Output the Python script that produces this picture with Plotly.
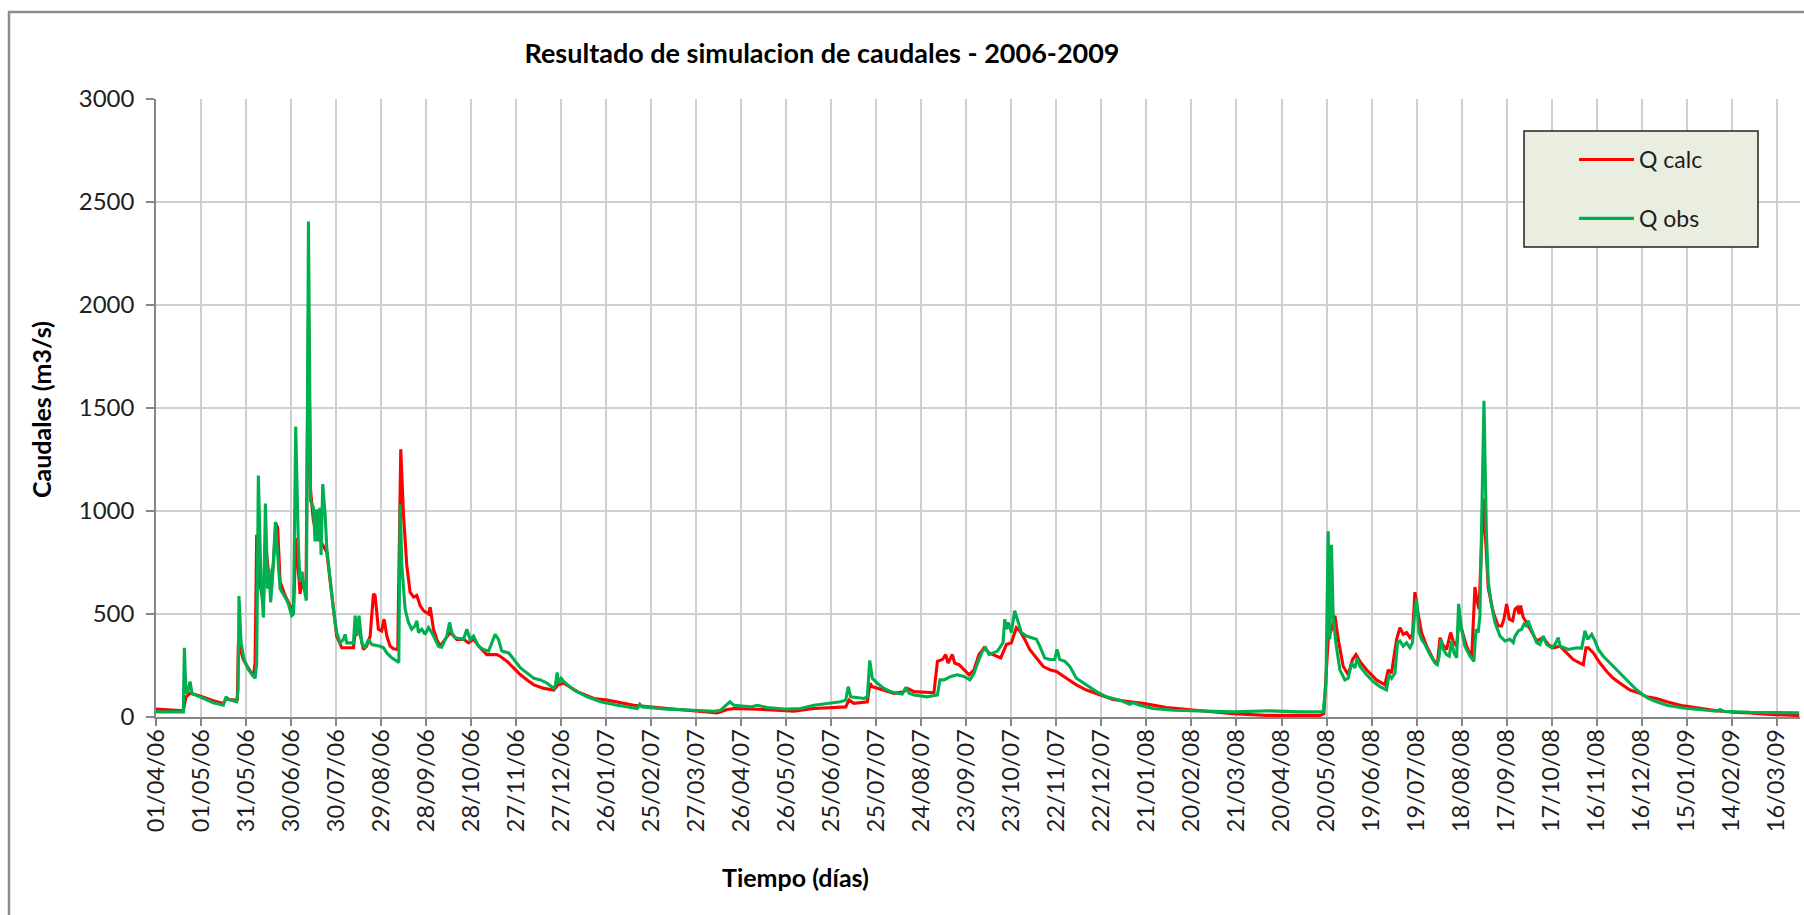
import pandas as pd
import plotly.graph_objects as go

# Serie diaria 01/04/2006 - 31/03/2009, expresada en días desde el inicio
inicio = pd.Timestamp("2006-04-01")

dias_obs = [
    0, 18.2, 18.9, 20, 21.1, 22.7, 24, 29.3, 38.2, 44.9, 46.7, 48.2, 51.6, 53.8, 54.7, 55.3,
    56.7, 58.7, 61.6, 64.9, 66, 67.1, 68.2, 70, 71.6, 72.9, 74.4, 75.3, 76.4, 77.6, 78.7,
    79.6, 81.1, 82.7, 86, 88.2, 90.4, 91.6, 93.1, 94.9, 96, 97.3, 98.7, 100.2, 101.6, 103,
    104.9, 106, 107.1, 108.2, 109.3, 110, 111.1, 112.7, 113.8, 116, 118.2, 120.4, 122.7,
    124.9, 126, 127.1, 131.6, 132.7, 133.8, 135.3, 137.1, 139.3, 141.6, 143.8, 149.3,
    151.6, 153.8, 157.1, 160.4, 161.8, 162.7, 163.8, 166, 168.2, 170.4, 172.7, 173.8,
    174.9, 177.1, 179.3, 181.6, 183.8, 186, 188.2, 190.4, 193.8, 195.6, 197.1, 199.3,
    204.9, 207.1, 209.3, 211.6, 214.9, 218.2, 221.6, 223.8, 226, 228.2, 230.4, 235.1,
    238.4, 242.9, 247.3, 251.8, 256.2, 260.7, 265.1, 266.2, 267.3, 268.4, 270, 271.8,
    278.4, 287.3, 296.2, 307.3, 320.7, 322.4, 324, 340.7, 358.4, 371.8, 376.2, 379.6,
    382.4, 385.1, 396.2, 400.7, 407.3, 420.7, 429.6, 438.4, 447.3, 456.2, 459.6, 461.3,
    462.9, 471.8, 474, 475.6, 477.3, 480.7, 485.1, 489.6, 494, 497.3, 499.6, 501.8, 505.1,
    514, 520.7, 522.4, 525.1, 529.6, 534, 538.4, 542.4, 545.1, 548.4, 550.7, 552.9, 555.1,
    560.7, 564.4, 565.6, 566.7, 567.8, 570, 572.2, 574.4, 576.7, 580, 583.3, 586.7, 588.9,
    592.2, 595.6, 598.9, 600.4, 602.2, 605.6, 608.9, 613.3, 620, 626.7, 633.3, 642.2,
    648.9, 651.1, 655.6, 664.4, 677.8, 695.6, 717.8, 742.2, 762.2, 777.8, 779.6, 781.1,
    782.2, 783.3, 784.4, 786.2, 788.9, 792.2, 794.4, 796.7, 798.9, 800.4, 802.2, 806.7,
    811.1, 815.6, 820, 821.6, 823.3, 825.6, 827.3, 828.9, 831.1, 833.3, 835.6, 837.3,
    838.9, 840, 841.6, 843.3, 845.6, 848.9, 852.2, 853.8, 855.1, 856.2, 857.8, 860, 861.8,
    863.3, 864.9, 866.7, 868, 870, 872.2, 875.6, 878.2, 879.6, 881.1, 882.2, 884.9, 886.5,
    887.8, 890, 892.2, 895.6, 898.9, 902.2, 904.4, 905.6, 907.8, 910, 911.6, 913.3, 914.4,
    916, 917.8, 920, 922.2, 924.4, 926.7, 930, 932.2, 934.4, 935.6, 937.8, 941.1, 946.7,
    950, 952.2, 954, 956.7, 958.9, 961.1, 964.4, 968.9, 973.3, 977.8, 982.2, 986.7, 991.1,
    994.4, 1000, 1006.7, 1017.8, 1028.9, 1040, 1042.2, 1044.4, 1062.2, 1080, 1095,
]
q_obs = [
    25, 25, 336, 115, 123, 172, 115, 98, 69, 57, 98, 85, 79, 74, 131, 587,
    360, 279, 229, 197, 188, 262, 1172, 656, 483, 1036, 623, 721, 557, 672, 820,
    947, 787, 623, 582, 549, 492, 500, 1410, 820, 656, 705, 623, 565, 2405, 1050,
    1016, 852, 1008, 852, 1016, 787, 1131, 983, 820, 656, 524, 410, 360,
    377, 401, 360, 360, 492, 393, 492, 360, 336, 377, 352, 344,
    336, 311, 287, 270, 265, 1033, 737, 524, 459, 426, 443, 467,
    410, 426, 401, 434, 410, 377, 344, 339, 393, 459, 410, 385,
    377, 426, 377, 393, 344, 328, 320, 360, 401, 377, 320, 311,
    279, 238, 213, 188, 180, 164, 139, 156, 216, 164, 188, 172,
    131, 98, 74, 57, 41, 62, 49, 38, 33, 28, 33, 57,
    74, 57, 49, 57, 46, 38, 41, 57, 66, 74, 82, 147,
    98, 90, 98, 275, 188, 164, 139, 123, 115, 111, 144, 115, 107,
    98, 107, 180, 180, 197, 205, 197, 180, 213, 279, 320, 336, 303,
    320, 360, 475, 426, 459, 410, 516, 459, 410, 393, 385, 377, 344,
    287, 279, 279, 328, 279, 270, 246, 188, 156, 123, 98, 82,
    62, 69, 57, 41, 33, 28, 25, 30, 25, 25, 164, 902,
    377, 836, 492, 360, 229, 180, 188, 262, 238, 287, 246, 205,
    172, 147, 131, 205, 188, 213, 360, 369, 344, 361, 336, 361,
    524, 574, 410, 377, 352, 303, 262, 254, 295, 377, 328, 303, 295,
    369, 311, 287, 549, 426, 344, 295, 270, 426, 410, 492, 1535, 900,
    656, 541, 459, 393, 369, 377, 361, 393, 418, 426, 451, 442, 467,
    434, 401, 361, 352, 393, 352, 336, 352, 385, 344, 336, 328, 336,
    333, 418, 377, 401, 369, 328, 295, 262, 229, 197, 164, 131, 107,
    90, 74, 57, 44, 36, 28, 36, 28, 23, 20, 20,
]

dias_calc = [
    0, 18.2, 20, 22.7, 29.3, 38.2, 44.9, 46.7, 49.3, 52.7, 54.2, 54.9, 58.2, 61.6, 64.9,
    66, 67.1, 68.9, 71.6, 72.9, 74.9, 76, 78.2, 79.8, 81.1, 82.7, 86, 90.4, 91.6, 93.3,
    95.1, 96, 97.1, 98.2, 100, 101.6, 103, 104.9, 107, 110, 113.8, 116, 118.2, 120.4,
    123.8, 131.6, 132.7, 134.9, 138.2, 140.4, 142.7, 144.9, 146, 148.2, 150.4, 152,
    153.8, 156, 158.2, 161.1, 163.1, 164.9, 167.1, 169.3, 171.6, 173.8, 176, 178.2,
    181.6, 182.7, 184.9, 187.1, 189.3, 192.7, 196, 200.4, 204.9, 208.2, 211.6, 216,
    220.4, 227.1, 229.3, 234, 238.4, 242.9, 247.3, 251.8, 258.4, 265.1, 267.8, 271.8,
    280.7, 291.8, 300.7, 318.4, 340.7, 362.9, 374, 380.7, 385.1, 407.3, 425.1, 438.4,
    459.6, 461.8, 465.1, 474, 475.8, 477.3, 485.1, 491.8, 498.4, 500.7, 505.1, 518.4,
    520.7, 524, 526.2, 527.8, 530.7, 532.2, 535.1, 538.4, 541.8, 545.1, 548.4, 551.8,
    555.1, 562.9, 564.4, 566.7, 570, 573.3, 575.6, 578.9, 582.2, 585.6, 591.1, 595.6,
    600, 606.7, 613.3, 620, 628.9, 637.8, 648.9, 657.8, 673.3, 695.6, 717.8, 740,
    775.6, 778.2, 780, 781.1, 783.3, 785.6, 787.8, 791.1, 794.4, 797.3, 799.6, 802.2,
    806.7, 813.3, 818.9, 821.1, 823.3, 826.7, 828.9, 831.1, 833.3, 835.6, 837.3, 838.9,
    841.1, 843.3, 846.7, 851.1, 853.8, 855.6, 857.3, 860, 862.7, 864.4, 866.7, 868.2,
    870, 873.3, 876.7, 878.9, 880, 881.6, 884.5, 887.8, 891.1, 894.4, 896.7, 898.2, 900,
    901.8, 904, 905.6, 907.1, 908.4, 909.3, 911.1, 913.3, 916.7, 920, 924.4, 927.8,
    931.1, 935.6, 940, 944.4, 948.9, 951.1, 952.9, 954.4, 957.8, 962.2, 966.7, 971.1,
    975.6, 982.2, 988.9, 993.3, 1000, 1006.7, 1017.8, 1028.9, 1040, 1051.1, 1062.2,
    1073.3, 1084.4, 1095,
]
q_calc = [
    38, 30, 98, 115, 102, 79, 66, 90, 85, 82, 85, 360, 279, 238, 197,
    262, 885, 656, 557, 852, 688, 623, 738, 942, 918, 656, 590, 524, 508, 869,
    656, 598, 656, 623, 656, 1960, 1100, 950, 900, 850, 800, 656, 508, 393,
    336, 336, 410, 443, 328, 344, 393, 598, 590, 426, 418, 475,
    393, 344, 331, 328, 1300, 983, 737, 606, 582, 590, 541, 516,
    500, 533, 426, 377, 344, 377, 410, 377, 377, 360, 377, 336,
    303, 303, 295, 270, 238, 205, 180, 156, 139, 131, 156, 164,
    123, 90, 82, 57, 41, 28, 20, 36, 41, 36, 28, 41,
    49, 82, 66, 74, 164, 147, 131, 115, 123, 139, 123, 118,
    270, 279, 303, 262, 303, 262, 254, 229, 205, 229, 303, 336,
    311, 287, 311, 352, 360, 434, 418, 377, 328, 295, 246, 229,
    221, 188, 156, 131, 107, 85, 74, 66, 46, 30, 16, 8,
    7, 16, 246, 377, 426, 492, 377, 246, 205, 279, 303, 270,
    229, 180, 156, 229, 213, 377, 434, 401, 410, 385, 401, 606,
    500, 410, 344, 279, 254, 385, 352, 328, 410, 369, 344, 467,
    426, 344, 287, 631, 574, 524, 1060, 623, 508, 442, 442, 475, 549,
    475, 467, 524, 533, 500, 541, 483, 459, 410, 369, 385, 352,
    336, 344, 311, 279, 262, 254, 336, 336, 311, 262, 221, 188,
    164, 131, 115, 98, 90, 74, 54, 41, 30, 23, 20,
    13, 8, 7,
]

fechas_obs = inicio + pd.to_timedelta(dias_obs, unit="D")
fechas_calc = inicio + pd.to_timedelta(dias_calc, unit="D")

FUENTE = "Lato"
GRIS_EJE = "#868686"
GRIS_REJILLA = "#D0D0D0"
TEXTO = "#1E1E1E"

fig = go.Figure()
fig.add_trace(go.Scatter(
    x=fechas_calc, y=q_calc, mode="lines", name="Q calc",
    legendgroup="calc", line=dict(color="#FF0000", width=3.1),
))
fig.add_trace(go.Scatter(
    x=fechas_obs, y=q_obs, mode="lines", name="Q obs",
    legendgroup="obs", line=dict(color="#00B050", width=3.1),
))

# Área del gráfico: plot de 156 a 1800 px en x y de 99 a 717 px en y
L, R, T, B = 156, 4, 99, 198
W, H = 1804, 915
pw, ph = W - L - R, H - T - B


def px_x(p):
    return (p - L) / pw


def px_y(p):
    return (H - B - p) / ph


fig.update_layout(
    width=W, height=H,
    margin=dict(l=L, r=R, t=T, b=B, pad=0),
    paper_bgcolor="white", plot_bgcolor="white",
    font=dict(family=FUENTE, size=23, color=TEXTO),
    showlegend=True,
    legend=dict(
        x=px_x(1574), y=px_y(138), xanchor="left", yanchor="top",
        bgcolor="rgba(0,0,0,0)", borderwidth=0,
        font=dict(family=FUENTE, size=23, color=TEXTO),
        itemwidth=55, tracegroupgap=26, traceorder="grouped",
    ),
    xaxis=dict(
        type="date",
        range=[inicio, inicio + pd.Timedelta(days=1095.5)],
        tick0=inicio, dtick=30 * 86400000, tickformat="%d/%m/%y",
        tickangle=-90, ticks="outside", ticklen=7, tickcolor=GRIS_EJE, tickwidth=1.5,
        ticklabelstandoff=-6,
        showline=True, linecolor=GRIS_EJE, linewidth=1.5,
        showgrid=True, gridcolor=GRIS_REJILLA, gridwidth=1.5,
        tickfont=dict(family=FUENTE, size=23.5, color=TEXTO),
        zeroline=False,
    ),
    yaxis=dict(
        range=[0, 3000], dtick=500, tick0=0,
        ticks="outside", ticklen=8, tickcolor=GRIS_EJE, tickwidth=1.5,
        ticklabelstandoff=7,
        showline=True, linecolor=GRIS_EJE, linewidth=1.5,
        showgrid=True, gridcolor=GRIS_REJILLA, gridwidth=1.5,
        tickfont=dict(family=FUENTE, size=24, color=TEXTO),
        zeroline=False,
    ),
    title=dict(
        text="Resultado de simulacion de caudales - 2006-2009",
        x=px_x(822), xanchor="center", xref="paper",
        y=1 - 54 / H, yanchor="middle",
        font=dict(family=FUENTE, size=27, color="#000000", weight="bold"),
    ),
    annotations=[
        dict(text="Caudales (m3/s)", xref="paper", yref="paper",
             x=px_x(41), y=px_y(410), xanchor="center", yanchor="middle",
             textangle=-90, showarrow=False,
             font=dict(family=FUENTE, size=25, color="#000000", weight="bold")),
        dict(text="Tiempo (días)", xref="paper", yref="paper",
             x=px_x(795), y=px_y(877), xanchor="center", yanchor="middle",
             showarrow=False,
             font=dict(family=FUENTE, size=25, color="#000000", weight="bold")),
    ],
    shapes=[
        # marco exterior del gráfico
        dict(type="rect", xref="paper", yref="paper",
             x0=px_x(9), x1=px_x(1815), y0=px_y(930), y1=px_y(12),
             line=dict(color="#8C8C8C", width=2.5), fillcolor="rgba(0,0,0,0)",
             layer="above"),
        # recuadro de la leyenda
        dict(type="rect", xref="paper", yref="paper",
             x0=px_x(1524), x1=px_x(1758), y0=px_y(247), y1=px_y(131),
             line=dict(color="#222222", width=1.5), fillcolor="#EAEEE0",
             layer="above"),
    ],
)

fig.write_html("out.html")
